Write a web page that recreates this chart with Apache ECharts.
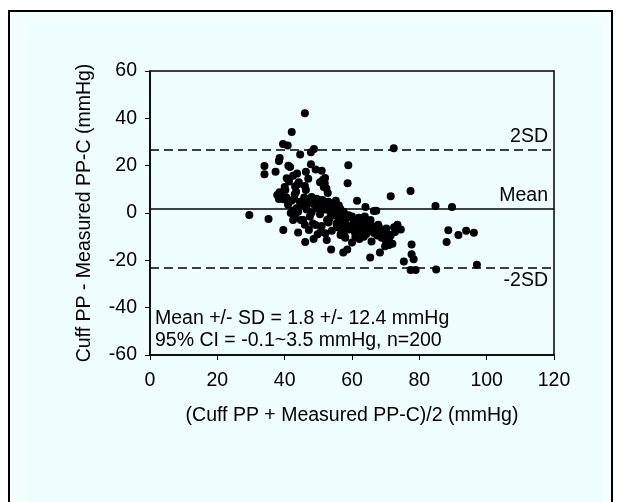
<!DOCTYPE html>
<html>
<head>
<meta charset="utf-8">
<script src="https://cdn.jsdelivr.net/npm/echarts@6/dist/echarts.min.js"></script>
<style>
html,body{margin:0;padding:0;background:#ffffff;}
#chart{width:620px;height:502px;}
</style>
</head>
<body>
<div id="chart"></div>
<script>
// (mean of two methods, difference) pairs, mmHg
const avgValues = [34.0,34.0,37.3,38.3,38.5,39.5,40.9,42.1,46.0,44.6,47.8,48.7,47.8,49.2,51.0,46.3,43.7,42.5,41.1,41.6,
40.6,41.3,40.2,38.5,37.8,39.2,38.3,39.7,43.1,43.9,43.4,43.0,46.0,46.3,50.5,51.4,51.9,52.4,51.6,58.9,
58.7,42.0,44.5,47.0,49.5,50.3,51.2,53.0,55.2,56.1,61.5,64.0,67.2,45.0,48.5,52.0,41.0,42.5,44.0,46.5,
48.0,49.5,50.5,51.8,53.5,54.5,55.8,57.5,58.5,60.0,61.0,62.0,63.0,64.5,66.0,66.5,68.0,69.0,42.5,44.8,
45.5,48.4,49.2,52.6,53.3,55.4,56.5,57.5,59.5,60.5,62.5,63.5,65.0,47.2,50.7,52.1,52.5,56.6,56.8,57.8,
59.0,60.8,61.8,63.5,64.2,66.5,67.5,69.5,70.0,70.5,71.0,72.0,69.8,70.8,72.5,73.5,74.5,71.5,68.5,39.6,
44.0,46.1,48.6,53.8,57.4,58.6,65.4,68.3,29.5,35.2,72.4,71.5,77.4,84.8,89.7,88.6,88.1,91.6,93.9,96.2,
97.1,85.0,75.4,77.4,78.9,78.3,77.7,77.7,40.5,42.8,43.5,45.8,46.8,48.0,49.0,50.0,50.8,51.5,52.8,53.8,
54.2,55.0,56.5,57.0,58.0,59.0,60.5,61.5,62.8,63.8,64.8,65.5,66.8,67.8,68.8,71.0,72.8,70.2,58.0,61.0,
62.2,55.5,54.0,49.8,51.0,47.5,46.0,43.0,41.8,53.0,56.0,57.8,60.0,65.8,63.0,52.0,44.2,40.0,47.0,52.8];
const diffValues = [19.9,16.4,17.4,22.0,23.2,29.2,28.5,34.2,42.2,24.7,25.7,27.0,20.6,18.4,17.8,17.4,16.7,15.7,20.0,19.4,
14.7,13.3,9.7,8.8,7.6,8.0,5.9,5.8,11.2,12.1,9.0,7.9,11.4,9.7,13.0,14.0,12.6,10.4,11.0,20.2,
12.6,5.2,4.8,5.5,6.0,4.2,5.5,4.8,5.2,3.2,5.2,2.5,1.0,3.5,3.8,3.0,3.5,1.0,0.5,1.5,
0.2,2.0,-0.5,1.5,0.5,-1.0,-0.3,0.5,-2.0,-1.5,-3.0,-2.0,-2.5,-3.5,-5.5,0.8,-6.0,-7.5,-3.0,-3.0,
-3.0,-4.4,-5.1,-3.0,-2.3,-4.4,-5.0,-4.0,-5.5,-6.5,-5.0,-6.0,-7.0,-7.2,-7.9,-8.6,-11.4,-9.3,-8.3,-9.8,
-7.0,-8.0,-7.0,-10.0,-9.0,-8.5,-9.5,-10.0,-11.5,-12.5,-13.5,-13.0,-14.0,-9.0,-6.0,-5.0,-7.0,-9.5,-8.0,-7.2,
-8.2,-12.3,-11.0,-15.4,-16.7,-15.4,-18.8,-16.7,-0.8,-2.5,27.4,7.1,9.3,3.0,2.5,-7.3,-12.3,-9.3,-7.5,-8.3,
-21.9,-23.9,-20.5,-24.1,-24.1,-19.5,-17.4,-13.3,6.5,6.0,2.0,6.5,4.0,6.8,4.5,5.5,2.5,3.8,2.2,3.5,
1.0,2.8,1.8,-1.5,-3.0,-1.0,-3.5,-5.0,-4.0,-1.5,-5.0,-3.0,-7.0,-5.0,-10.5,-11.0,-8.0,-6.5,-10.5,-10.0,
-11.0,-6.0,-7.5,-9.0,-5.5,-1.5,-5.0,-1.0,0.0,-4.0,-2.5,-6.5,-12.5,-12.0,-8.5,14.8,13.0,11.0,14.5,8.5];

const meanDiff = 1.8;
const upperLimit = 26.6;
const lowerLimit = -23.0;
const limitNames = ['2SD', 'Mean', '-2SD'];
const statLines = ['Mean +/- SD = 1.8 +/- 12.4 mmHg', '95% CI = -0.1~3.5 mmHg, n=200'];
const xTitle = '(Cuff PP + Measured PP-C)/2 (mmHg)';
const yTitle = 'Cuff PP - Measured PP-C (mmHg)';

const points = avgValues.map((v, i) => [v, diffValues[i]]);
const FONT = 'Liberation Sans, Arial, sans-serif';
const FS = 19.5;

const chart = echarts.init(document.getElementById('chart'), null, {renderer: 'canvas'});
chart.setOption({
  animation: false,
  backgroundColor: '#ffffff',
  graphic: [
    {type: 'rect', z: -10, shape: {x: 9, y: 11, width: 603, height: 495},
     style: {fill: '#f3fefe', stroke: '#000', lineWidth: 2}},
    {type: 'rect', z: -9, shape: {x: 28, y: 22, width: 575, height: 490},
     style: {fill: '#eefdfd', stroke: null}},
    {type: 'text', x: 155, y: 318.5, z: 10,
     style: {text: statLines[0], font: FS + 'px ' + FONT, fill: '#000', verticalAlign: 'middle'}},
    {type: 'text', x: 155, y: 341, z: 10,
     style: {text: statLines[1], font: FS + 'px ' + FONT, fill: '#000', verticalAlign: 'middle'}}
  ],
  grid: {left: 150, top: 71, right: 66, bottom: 147, show: true, borderColor: '#000', borderWidth: 1.5, backgroundColor: 'transparent'},
  xAxis: {
    type: 'value', min: 0, max: 120, interval: 20,
    name: xTitle, nameLocation: 'middle', nameGap: 51,
    nameTextStyle: {fontFamily: FONT, fontSize: FS, color: '#000'},
    axisLine: {show: true, onZero: false, lineStyle: {color: '#000', width: 1.5}},
    axisTick: {show: true, inside: false, length: 5, lineStyle: {color: '#000'}},
    axisLabel: {fontFamily: FONT, fontSize: FS, color: '#000', margin: 16},
    splitLine: {show: false}
  },
  yAxis: {
    type: 'value', min: -60, max: 60, interval: 20,
    name: yTitle, nameLocation: 'middle', nameGap: 55,
    nameTextStyle: {fontFamily: FONT, fontSize: FS, color: '#000'},
    axisLine: {show: true, onZero: false, lineStyle: {color: '#000', width: 1.5}},
    axisTick: {show: true, inside: false, length: 5, lineStyle: {color: '#000'}},
    axisLabel: {fontFamily: FONT, fontSize: FS, color: '#000', margin: 13},
    splitLine: {show: false}
  },
  series: [{
    type: 'scatter',
    data: points,
    symbol: 'circle',
    symbolSize: 8,
    itemStyle: {color: '#000', opacity: 1},
    markLine: {
      silent: true,
      symbol: 'none',
      data: [
        {yAxis: upperLimit, lineStyle: {type: [9, 5], color: '#000', width: 1.5},
         label: {formatter: limitNames[0], position: 'insideEndTop'}},
        {yAxis: meanDiff, lineStyle: {type: 'solid', color: '#000', width: 1.5},
         label: {formatter: limitNames[1], position: 'insideEndTop'}},
        {yAxis: lowerLimit, lineStyle: {type: [9, 5], color: '#000', width: 1.5},
         label: {formatter: limitNames[2], position: 'insideEndBottom'}}
      ],
      label: {fontFamily: FONT, fontSize: FS, color: '#000', distance: [6, 3]}
    }
  }]
});
</script>
</body>
</html>
